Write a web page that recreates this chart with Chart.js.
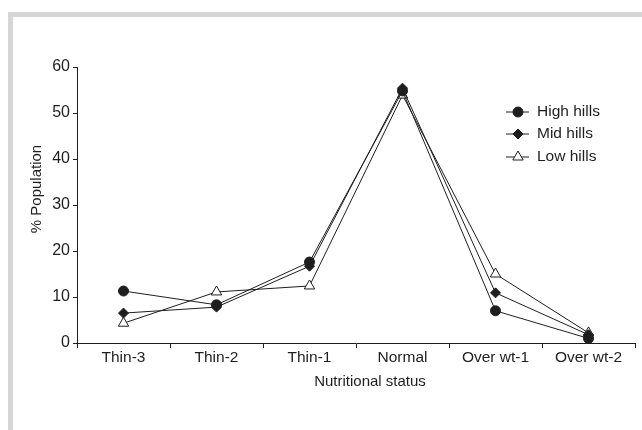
<!DOCTYPE html>
<html>
<head>
<meta charset="utf-8">
<script src="https://cdn.jsdelivr.net/npm/chart.js@4/dist/chart.umd.min.js"></script>
<style>
  html, body { margin: 0; padding: 0; background: #fff; }
  #wrap { position: relative; width: 642px; height: 430px; overflow: hidden; }
  #frame {
    position: absolute; left: 8px; top: 12px; right: 0; bottom: 0;
    border-top: 5px solid #d6d6d6; border-left: 5px solid #d6d6d6;
  }
  #myChart { position: absolute; left: 0; top: 0; }
</style>
</head>
<body>
<div id="wrap">
  <div id="frame"></div>
  <canvas id="myChart" width="642" height="430"></canvas>
</div>
<script>
// ********* DATA *********
const categories = ["Thin-3", "Thin-2", "Thin-1", "Normal", "Over wt-1", "Over wt-2"];
const highHills = [11.3, 8.3, 17.6, 54.8, 7.0, 1.0];
const midHills = [6.5, 7.8, 16.7, 55.4, 10.9, 1.8];
const lowHills = [4.3, 11.1, 12.4, 53.9, 15.0, 2.2];
const yMin = 0;
const yMax = 60;
const yStep = 10;

const fontFamily = "'Liberation Sans', Arial, Helvetica, sans-serif";
const ink = "#1e1e1e";

// ********* PLUGINS *********

// legend drawn inside the plot, marker on a short line
const insideLegend = {
  id: "insideLegend",
  afterDraw: (chart) => {
    const ctx = chart.ctx;
    const rows = [112, 134, 157];
    ctx.save();
    chart.data.datasets.forEach((ds, i) => {
      const y = rows[i];
      ctx.strokeStyle = ink;
      ctx.lineWidth = 1;
      ctx.beginPath();
      ctx.moveTo(506, y);
      ctx.lineTo(529, y);
      ctx.stroke();
      ctx.fillStyle = ds.pointBackgroundColor;
      ctx.strokeStyle = ink;
      Chart.helpers.drawPoint(ctx, {
        pointStyle: ds.pointStyle,
        radius: ds.pointRadius,
        rotation: 0,
        borderWidth: 1,
      }, 518, y);
      ctx.fillStyle = ink;
      ctx.font = "15.5px " + fontFamily;
      ctx.textAlign = "left";
      ctx.textBaseline = "middle";
      ctx.fillText(ds.label, 537, y);
    });
    ctx.restore();
  },
};

// axis titles placed like in the figure
const axisTitles = {
  id: "axisTitles",
  afterDraw: (chart) => {
    const ctx = chart.ctx;
    ctx.save();
    ctx.fillStyle = ink;
    ctx.font = "15px " + fontFamily;
    ctx.textAlign = "center";
    ctx.textBaseline = "middle";
    ctx.fillText("Nutritional status", 370, 382);
    ctx.translate(37, 189);
    ctx.rotate(-Math.PI / 2);
    ctx.fillText("% Population", 0, 0);
    ctx.restore();
  },
};

// ********* CHART *********
const makeSeries = (label, data, style, radius, fill) => ({
  label: label,
  data: data,
  borderColor: ink,
  borderWidth: 1,
  pointStyle: style,
  pointRadius: radius,
  pointHoverRadius: radius,
  pointBackgroundColor: fill,
  pointBorderColor: ink,
  pointBorderWidth: 1,
  tension: 0,
});

const ctx = document.getElementById("myChart");
const myChartView = new Chart(ctx, {
  type: "line",
  data: {
    labels: categories,
    datasets: [
      makeSeries("High hills", highHills, "circle", 5, ink),
      makeSeries("Mid hills", midHills, "rectRot", 5, ink),
      makeSeries("Low hills", lowHills, "triangle", 6, "#ffffff"),
    ],
  },
  options: {
    responsive: false,
    animation: false,
    devicePixelRatio: 1,
    layout: {
      padding: { top: 67, right: 2, left: 0, bottom: 0 },
    },
    plugins: {
      legend: { display: false },
      tooltip: { enabled: false },
    },
    scales: {
      x: {
        type: "category",
        offset: true,
        grid: {
          offset: true,
          drawOnChartArea: false,
          drawTicks: true,
          tickLength: 5,
          color: ink,
        },
        border: { display: true, color: ink, width: 1 },
        ticks: {
          color: ink,
          padding: 0,
          maxRotation: 0,
          autoSkip: false,
          font: { family: fontFamily, size: 15.5 },
        },
        afterFit: (scale) => {
          scale.height = 87;
        },
      },
      y: {
        min: yMin,
        max: yMax,
        grid: {
          drawOnChartArea: false,
          drawTicks: true,
          tickLength: 4,
          color: ink,
        },
        border: { display: true, color: ink, width: 1 },
        ticks: {
          stepSize: yStep,
          color: ink,
          padding: 3,
          font: { family: fontFamily, size: 16 },
        },
        afterFit: (scale) => {
          scale.width = 77;
        },
      },
    },
  },
  plugins: [insideLegend, axisTitles],
});
</script>
</body>
</html>
